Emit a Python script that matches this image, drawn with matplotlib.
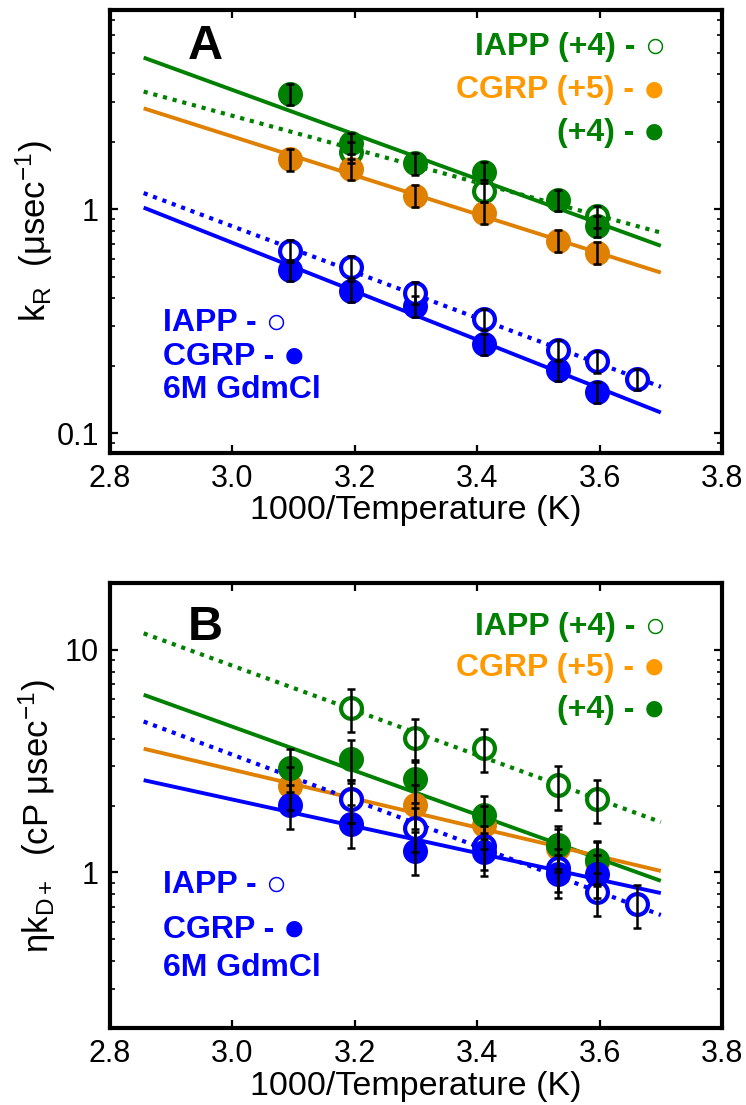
import matplotlib
matplotlib.use("Agg")
import matplotlib.pyplot as plt
from matplotlib.ticker import LogLocator, NullFormatter

plt.rcParams['font.family'] = ['Liberation Sans', 'DejaVu Sans']
plt.rcParams['mathtext.fontset'] = 'custom'
plt.rcParams['mathtext.rm'] = 'Liberation Sans'
plt.rcParams['mathtext.it'] = 'Liberation Sans:italic'
plt.rcParams['mathtext.bf'] = 'Liberation Sans:bold'

# ---- inverse temperature (1000/K) for 50, 40, 30, 20, 10, 5, 0 degC ----
inv_T = [3.094, 3.193, 3.299, 3.411, 3.532, 3.595, 3.661]

# ---- Panel A: k_R (usec^-1) ----
a_cgrp4 = [3.27, 1.98, 1.60, 1.47, 1.10, 0.84]          # green filled
a_iapp4_x = [3.193, 3.411, 3.595]
a_iapp4 = [1.80, 1.21, 0.93]                              # green open
a_cgrp5 = [1.67, 1.51, 1.15, 0.966, 0.724, 0.64]         # orange filled
a_cgrp_gdm = [0.536, 0.432, 0.370, 0.250, 0.192, 0.153]  # blue filled
a_iapp_gdm = [0.653, 0.554, 0.424, 0.323, 0.235, 0.209, 0.175]  # blue open

# ---- Panel B: eta*k_D+ (cP usec^-1) ----
b_iapp4_x = [3.193, 3.299, 3.411, 3.532, 3.595]
b_iapp4 = [5.48, 4.02, 3.63, 2.46, 2.13]
b_cgrp4 = [2.95, 3.24, 2.62, 1.81, 1.33, 1.14]
b_cgrp5 = [2.44, 2.13, 2.02, 1.63, 1.29, 1.12]
b_cgrp_gdm = [2.02, 1.65, 1.25, 1.23, 0.98, 0.98]
b_iapp_gdm_x = [3.193, 3.299, 3.411, 3.532, 3.595, 3.661]
b_iapp_gdm = [2.13, 1.59, 1.32, 1.05, 0.819, 0.721]

# relative error bars
a_rel_err = 0.11
b_rel_err = 0.22

# ---- fitted lines (end points) ----
fit_x = [2.855, 3.70]
a_fit_cgrp4 = [4.75, 0.686]
a_fit_iapp4 = [3.35, 0.786]
a_fit_cgrp5 = [2.82, 0.521]
a_fit_iapp_gdm = [1.18, 0.161]
a_fit_cgrp_gdm = [1.016, 0.1236]

b_fit_iapp4 = [11.88, 1.685]
b_fit_cgrp4 = [6.29, 0.917]
b_fit_cgrp5 = [3.60, 1.016]
b_fit_iapp_gdm = [4.77, 0.644]
b_fit_cgrp_gdm = [2.60, 0.808]

x_ticks = [2.8, 3.0, 3.2, 3.4, 3.6, 3.8]

GREEN = '#008000'
ORANGE = '#E08000'
ORANGE_TXT = '#FF9900'
BLUE = '#0000FF'

fig = plt.figure(figsize=(7.46, 11.05), dpi=100)
W, H = 746.0, 1105.0
axA = fig.add_axes([110 / W, 1 - 453 / H, 612 / W, 443 / H])
axB = fig.add_axes([110 / W, 1 - 1028 / H, 612 / W, 445 / H])

DOT = (0, (1, 1.4))


def fit_line(ax, y, color, dotted=False):
    ax.plot(fit_x, y, color=color, lw=2.8 if not dotted else 3.0,
            linestyle=DOT if dotted else '-', dash_capstyle='butt',
            solid_capstyle='butt', zorder=2)


def filled(ax, x, y, color, rel):
    ax.plot(x, y, 'o', ms=18, mfc=color, mec=color, mew=0, zorder=3)
    ax.errorbar(x, y, yerr=[v * rel for v in y], fmt='none', ecolor='k',
                elinewidth=1.8, capsize=3, capthick=1.8, zorder=5)


def hollow(ax, x, y, color, rel):
    ax.plot(x, y, 'o', ms=15, mfc='white', mec=color, mew=3, zorder=3)
    ax.errorbar(x, y, yerr=[v * rel for v in y], fmt='none', ecolor='k',
                elinewidth=1.8, capsize=3, capthick=1.8, zorder=5)


# Panel A
fit_line(axA, a_fit_cgrp4, GREEN)
fit_line(axA, a_fit_iapp4, GREEN, dotted=True)
fit_line(axA, a_fit_cgrp5, ORANGE)
fit_line(axA, a_fit_iapp_gdm, BLUE, dotted=True)
fit_line(axA, a_fit_cgrp_gdm, BLUE)
hollow(axA, a_iapp4_x, a_iapp4, GREEN, a_rel_err)
filled(axA, inv_T[:6], a_cgrp4, GREEN, a_rel_err)
filled(axA, inv_T[:6], a_cgrp5, ORANGE, a_rel_err)
filled(axA, inv_T[:6], a_cgrp_gdm, BLUE, a_rel_err)
hollow(axA, inv_T, a_iapp_gdm, BLUE, a_rel_err)

# Panel B
fit_line(axB, b_fit_iapp4, GREEN, dotted=True)
fit_line(axB, b_fit_cgrp4, GREEN)
fit_line(axB, b_fit_cgrp5, ORANGE)
fit_line(axB, b_fit_iapp_gdm, BLUE, dotted=True)
fit_line(axB, b_fit_cgrp_gdm, BLUE)
hollow(axB, b_iapp4_x, b_iapp4, GREEN, b_rel_err)
filled(axB, inv_T[:6], b_cgrp5, ORANGE, b_rel_err)
filled(axB, inv_T[:6], b_cgrp4, GREEN, b_rel_err)
hollow(axB, b_iapp_gdm_x, b_iapp_gdm, BLUE, b_rel_err)
filled(axB, inv_T[:6], b_cgrp_gdm, BLUE, b_rel_err)

for ax in (axA, axB):
    ax.set_yscale('log')
    ax.set_xlim(2.8, 3.8)
    ax.set_xticks(x_ticks)
    ax.set_xticklabels([f'{t:.1f}' for t in x_ticks])
    ax.yaxis.set_minor_locator(LogLocator(base=10, subs=range(2, 10)))
    ax.yaxis.set_minor_formatter(NullFormatter())
    for s in ax.spines.values():
        s.set_linewidth(3)
    ax.tick_params(which='both', direction='in', top=True, right=True,
                   labelsize=22, pad=8)
    ax.tick_params(which='major', length=6, width=1.6)
    ax.tick_params(which='minor', length=3.5, width=1.2)
    ax.set_xlabel('1000/Temperature (K)', fontsize=24.5, labelpad=1)

axA.set_ylim(0.0815, 7.75)
axA.set_yticks([0.1, 1])
axA.set_yticklabels(['0.1', '1'])
axB.set_ylim(0.2, 20)
axB.set_yticks([1, 10])
axB.set_yticklabels(['1', '10'])

axA.set_ylabel(r'k$_{\mathregular{R}}$  (μsec$^{\mathregular{-1}}$)', fontsize=25)
axA.yaxis.set_label_coords(-0.09, 0.5)
axB.set_ylabel(r'ηk$_{\mathregular{D+}}$  (cP μsec$^{\mathregular{-1}}$)', fontsize=25)
axB.yaxis.set_label_coords(-0.085, 0.475)

TXT = dict(fontsize=23, fontweight='bold')
SYM_SIZE = {'○': 25, '●': 27}


def key_right(ax, x, y, label, sym, color):
    """Right-aligned key entry: label followed by a marker glyph."""
    s = ax.text(x, y, sym, transform=ax.transAxes, ha='right', va='center',
                color=color, fontsize=SYM_SIZE[sym])
    ax.annotate(label, xy=(0, 0.5), xycoords=s, xytext=(-6, 0),
                textcoords='offset points', ha='right', va='center',
                color=color, **TXT)


def key_left(ax, x, y, label, sym, color):
    """Left-aligned key entry: label followed by a marker glyph."""
    t = ax.text(x, y, label, transform=ax.transAxes, ha='left', va='center',
                color=color, **TXT)
    if sym:
        ax.annotate(sym, xy=(1, 0.5), xycoords=t, xytext=(6, 0),
                    textcoords='offset points', ha='left', va='center',
                    color=color, fontsize=SYM_SIZE[sym])


def legends(ax, letter, gy, by):
    ax.text(0.155, gy[0], letter, transform=ax.transAxes, ha='center',
            va='center', fontsize=35, fontweight='bold', color='k')
    key_right(ax, 0.907, gy[0], 'IAPP (+4) -', '○', GREEN)
    key_right(ax, 0.907, gy[1], 'CGRP (+5) -', '●', ORANGE_TXT)
    key_right(ax, 0.907, gy[2], '(+4) -', '●', GREEN)
    key_left(ax, 0.087, by[0], 'IAPP -', '○', BLUE)
    key_left(ax, 0.087, by[1], 'CGRP -', '●', BLUE)
    key_left(ax, 0.087, by[2], '6M GdmCl', None, BLUE)


legends(axA, 'A', [0.9165, 0.819, 0.722], [0.293, 0.217, 0.142])
legends(axB, 'B', [0.901, 0.809, 0.715], [0.321, 0.220, 0.135])

fig.savefig('out.png', dpi=100)
